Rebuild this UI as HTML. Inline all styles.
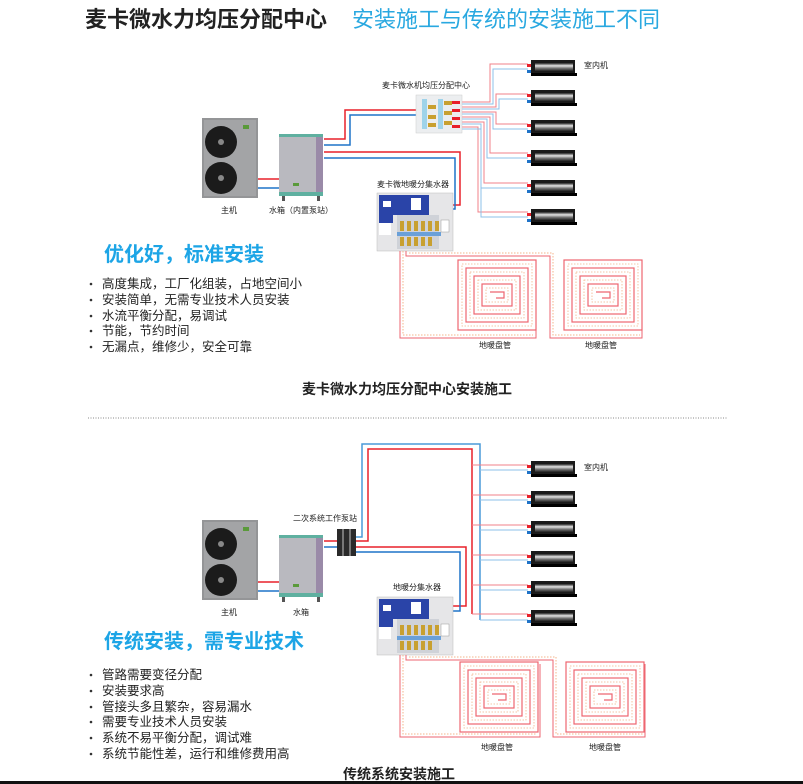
<!DOCTYPE html>
<html><head><meta charset="utf-8"><style>
html,body{margin:0;padding:0;background:#fff;}
svg{display:block;font-family:"Liberation Sans","Noto Sans CJK SC",sans-serif;}
</style></head><body>
<svg width="803" height="784" viewBox="0 0 803 784" xmlns="http://www.w3.org/2000/svg">
<defs>
<linearGradient id="iug" x1="0" y1="0" x2="0" y2="1">
<stop offset="0" stop-color="#222"/><stop offset="0.35" stop-color="#e4e4e4"/><stop offset="0.65" stop-color="#777"/><stop offset="1" stop-color="#222"/>
</linearGradient>
<g id="iu">
<rect x="0" y="4" width="4" height="3" fill="#e8202a"/>
<rect x="0" y="10" width="4" height="3" fill="#1f73c8"/>
<rect x="4" y="0" width="44" height="15" fill="#1a1a1a"/>
<rect x="8" y="3" width="38" height="8" fill="url(#iug)"/>
<rect x="4" y="13" width="46" height="3" fill="#000"/>
</g>
<g id="main">
<rect x="0" y="0" width="56" height="80" fill="#949597"/>
<rect x="2" y="2" width="52" height="76" fill="#a3a4a6"/>
<circle cx="19" cy="24" r="16" fill="#1b1b1b"/><circle cx="19" cy="24" r="3" fill="#888"/>
<circle cx="19" cy="60" r="16" fill="#1b1b1b"/><circle cx="19" cy="60" r="3" fill="#888"/>
<rect x="41" y="7" width="6" height="4" fill="#5a9a3a"/>
</g>
<g id="tank">
<rect x="0" y="0" width="44" height="62" fill="#b9b9bf"/>
<rect x="0" y="0" width="44" height="3" fill="#5fb0a0"/>
<rect x="37" y="3" width="7" height="59" fill="#9a8aa8"/>
<rect x="0" y="58" width="44" height="4" fill="#5fb0a0"/>
<rect x="3" y="62" width="3" height="5" fill="#555"/><rect x="38" y="62" width="3" height="5" fill="#555"/>
<rect x="14" y="49" width="6" height="3" fill="#5a9a3a"/>
</g>
<g id="fm">
<rect x="0" y="0" width="76" height="58" fill="#e6e6e8" stroke="#bbb" stroke-width="0.5"/>
<rect x="2" y="2" width="50" height="20" fill="#2a44a8"/>
<rect x="6" y="8" width="8" height="6" fill="#fff"/>
<rect x="34" y="5" width="10" height="12" fill="#fff"/>
<rect x="2" y="22" width="14" height="8" fill="#2a44a8"/>
<rect x="2" y="30" width="12" height="12" fill="#fff"/>
<rect x="20" y="22" width="42" height="34" fill="#cfd2d8"/>
<g fill="#c8a030"><rect x="23" y="28" width="4" height="10"/><rect x="30" y="28" width="4" height="10"/><rect x="37" y="28" width="4" height="10"/><rect x="44" y="28" width="4" height="10"/><rect x="51" y="28" width="4" height="10"/><rect x="58" y="28" width="4" height="10"/>
<rect x="23" y="44" width="4" height="9"/><rect x="30" y="44" width="4" height="9"/><rect x="37" y="44" width="4" height="9"/><rect x="44" y="44" width="4" height="9"/><rect x="51" y="44" width="4" height="9"/></g>
<rect x="20" y="39" width="44" height="4" fill="#6aa0d8"/>
<rect x="64" y="27" width="8" height="12" fill="#fff" stroke="#999" stroke-width="0.5"/>
</g>
<g id="coil" fill="none">
<g stroke="#ee6670" stroke-width="1.2">
<rect x="0" y="0" width="78" height="70"/><rect x="8" y="8" width="62" height="54"/><rect x="16" y="16" width="46" height="38"/><rect x="24" y="24" width="30" height="22"/><path d="M32 32 h14 v6 h-8"/></g>
<g stroke="#f4b48a" stroke-width="0.8" stroke-dasharray="1.5 1.5">
<rect x="4" y="4" width="70" height="62"/><rect x="12" y="12" width="54" height="46"/><rect x="20" y="20" width="38" height="30"/><rect x="28" y="28" width="22" height="14"/></g>
</g>
<g id="dc">
<rect x="0" y="0" width="46" height="38" fill="#eceef0" stroke="#ccc" stroke-width="0.5"/>
<rect x="6" y="4" width="5" height="30" fill="#9fd3ea"/>
<rect x="22" y="4" width="5" height="30" fill="#9fd3ea"/>
<g fill="#c8a030"><rect x="12" y="10" width="8" height="4"/><rect x="12" y="20" width="8" height="4"/><rect x="12" y="28" width="8" height="4"/><rect x="28" y="6" width="8" height="4"/><rect x="28" y="16" width="8" height="4"/><rect x="28" y="26" width="8" height="4"/></g>
<g fill="#e8202a"><rect x="36" y="6" width="8" height="3"/><rect x="36" y="14" width="8" height="3"/><rect x="36" y="22" width="8" height="3"/><rect x="36" y="30" width="8" height="3"/></g>
</g>
</defs>

<text x="85" y="27" font-size="22" font-weight="bold" fill="#222">麦卡微水力均压分配中心</text>
<text x="352" y="27" font-size="22" fill="#29a8e0">安装施工与传统的安装施工不同</text>

<g fill="none" stroke-width="1.5">
<path d="M258 179H280" stroke="#e8202a"/><path d="M258 188H280" stroke="#1f73c8"/>
<path d="M324 139H345V110H416" stroke="#e8202a"/><path d="M324 145H350V115H416" stroke="#1f73c8"/>
<path d="M324 152H460V205H440" stroke="#e8202a"/><path d="M324 158H455V209H440" stroke="#1f73c8"/>
</g>
<g fill="none" stroke-width="1">
<path d="M462 102H490V64H528" stroke="#f08088"/><path d="M462 104H493V69H528" stroke="#8cc0e8"/>
<path d="M462 107H496V94H528" stroke="#f08088"/><path d="M462 109H499V99H528" stroke="#8cc0e8"/>
<path d="M462 112H496V124H528" stroke="#f08088"/><path d="M462 114H493V129H528" stroke="#8cc0e8"/>
<path d="M462 117H490V153H528" stroke="#f08088"/><path d="M462 119H487V158H528" stroke="#8cc0e8"/>
<path d="M462 122H484V183H528" stroke="#f08088"/><path d="M462 124H481V188H528" stroke="#8cc0e8"/>
<path d="M462 127H478V212H528" stroke="#f08088"/><path d="M462 129H481V217H528" stroke="#8cc0e8"/>
</g>
<use href="#main" x="202" y="118"/>
<use href="#tank" x="279" y="134"/>
<use href="#dc" x="416" y="95"/>
<use href="#iu" x="527" y="60"/><use href="#iu" x="527" y="90"/><use href="#iu" x="527" y="120"/><use href="#iu" x="527" y="150"/><use href="#iu" x="527" y="180"/><use href="#iu" x="527" y="209"/>
<use href="#fm" x="377" y="193"/>
<g fill="none" stroke-width="1">
<path d="M400 251V338H536V260" stroke="#ee6670"/>
<path d="M406 251V256H550V338H642V260" stroke="#ee6670"/>
<path d="M403 251V335H533" stroke="#f4b48a" stroke-dasharray="1.5 1.5"/>
<path d="M409 253H553V335H640" stroke="#f4b48a" stroke-dasharray="1.5 1.5"/>
</g>
<use href="#coil" x="458" y="260"/>
<use href="#coil" x="564" y="260"/>
<g font-size="8" fill="#222">
<text x="229" y="213" text-anchor="middle">主机</text>
<text x="301" y="213" text-anchor="middle">水箱（内置泵站）</text>
<text x="426" y="88" text-anchor="middle">麦卡微水机均压分配中心</text>
<text x="413" y="187" text-anchor="middle">麦卡微地暖分集水器</text>
<text x="584" y="68">室内机</text>
<text x="495" y="348" text-anchor="middle">地暖盘管</text>
<text x="601" y="348" text-anchor="middle">地暖盘管</text>
</g>
<text x="104" y="261" font-size="20" font-weight="bold" fill="#1da5e6">优化好，标准安装</text>
<g fill="#333"><circle cx="91" cy="284" r="1.3"/><circle cx="91" cy="300" r="1.3"/><circle cx="91" cy="316" r="1.3"/><circle cx="91" cy="331" r="1.3"/><circle cx="91" cy="347" r="1.3"/></g>
<g font-size="12.5" fill="#222">
<text x="102" y="288">高度集成，工厂化组装，占地空间小</text>
<text x="102" y="304">安装简单，无需专业技术人员安装</text>
<text x="102" y="320">水流平衡分配，易调试</text>
<text x="102" y="335">节能，节约时间</text>
<text x="102" y="351">无漏点，维修少，安全可靠</text>
</g>
<text x="407" y="394" font-size="14" font-weight="bold" fill="#222" text-anchor="middle">麦卡微水力均压分配中心安装施工</text>
<line x1="88" y1="418" x2="728" y2="418" stroke="#888" stroke-width="1" stroke-dasharray="1 1.5"/>

<g fill="none" stroke-width="1.5">
<path d="M258 582H280" stroke="#e8202a"/><path d="M258 591H280" stroke="#1f73c8"/>
<path d="M324 541H338" stroke="#e8202a"/><path d="M324 547H338" stroke="#1f73c8"/>
<path d="M356 537H362V444H480V620" stroke="#4a9ad8"/>
<path d="M356 541H368V449H472V614" stroke="#e8202a"/>
<path d="M356 547H466V606H440" stroke="#e8202a"/><path d="M356 552H460V611H440" stroke="#1f73c8"/>
</g>
<g fill="none" stroke-width="1">
<path d="M472 465H528M472 495H528M472 525H528M472 555H528M472 585H528M472 614H528" stroke="#f08088"/>
<path d="M480 470H528M480 500H528M480 530H528M480 560H528M480 590H528M480 620H528" stroke="#8cc0e8"/>
</g>
<use href="#main" x="202" y="520"/>
<use href="#tank" x="279" y="535"/>
<rect x="337" y="529" width="19" height="27" fill="#2a2a2a"/>
<rect x="342" y="529" width="2" height="27" fill="#777"/><rect x="349" y="529" width="2" height="27" fill="#777"/>
<use href="#iu" x="527" y="461"/><use href="#iu" x="527" y="491"/><use href="#iu" x="527" y="521"/><use href="#iu" x="527" y="551"/><use href="#iu" x="527" y="581"/><use href="#iu" x="527" y="610"/>
<use href="#fm" x="377" y="597"/>
<g fill="none" stroke-width="1">
<path d="M400 655V737H540V664" stroke="#ee6670"/>
<path d="M406 655V660H553V737H645V664" stroke="#ee6670"/>
<path d="M403 655V734H537" stroke="#f4b48a" stroke-dasharray="1.5 1.5"/>
<path d="M409 657H556V734H643" stroke="#f4b48a" stroke-dasharray="1.5 1.5"/>
</g>
<use href="#coil" x="460" y="662"/>
<use href="#coil" x="566" y="662"/>
<g font-size="8" fill="#222">
<text x="229" y="615" text-anchor="middle">主机</text>
<text x="301" y="615" text-anchor="middle">水箱</text>
<text x="325" y="521" text-anchor="middle">二次系统工作泵站</text>
<text x="417" y="590" text-anchor="middle">地暖分集水器</text>
<text x="584" y="470">室内机</text>
<text x="497" y="750" text-anchor="middle">地暖盘管</text>
<text x="605" y="750" text-anchor="middle">地暖盘管</text>
</g>
<text x="104" y="648" font-size="20" font-weight="bold" fill="#1da5e6">传统安装，需专业技术</text>
<g fill="#333"><circle cx="91" cy="675" r="1.3"/><circle cx="91" cy="691" r="1.3"/><circle cx="91" cy="707" r="1.3"/><circle cx="91" cy="722" r="1.3"/><circle cx="91" cy="738" r="1.3"/><circle cx="91" cy="754" r="1.3"/></g>
<g font-size="12.5" fill="#222">
<text x="102" y="679">管路需要变径分配</text>
<text x="102" y="695">安装要求高</text>
<text x="102" y="711">管接头多且繁杂，容易漏水</text>
<text x="102" y="726">需要专业技术人员安装</text>
<text x="102" y="742">系统不易平衡分配，调试难</text>
<text x="102" y="758">系统节能性差，运行和维修费用高</text>
</g>
<text x="343" y="779" font-size="14" font-weight="bold" fill="#222">传统系统安装施工</text>
<rect x="0" y="781" width="803" height="3" fill="#111"/>
</svg>
</body></html>
